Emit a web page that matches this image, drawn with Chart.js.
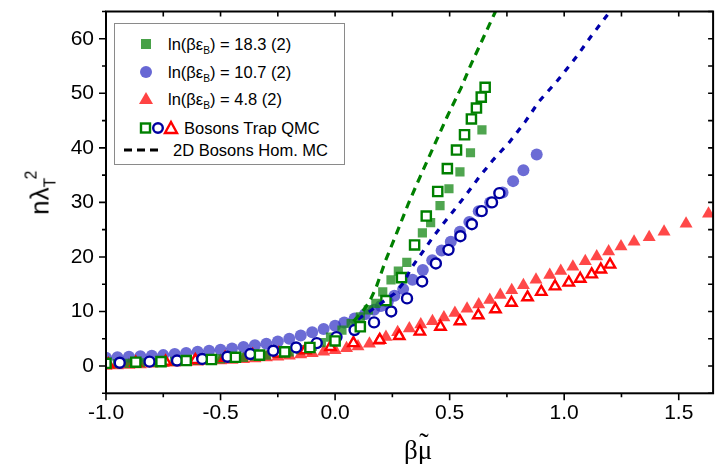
<!DOCTYPE html>
<html>
<head>
<meta charset="utf-8">
<script src="https://cdn.jsdelivr.net/npm/chart.js@4.4.1/dist/chart.umd.min.js"></script>
<style>
  html, body { margin: 0; padding: 0; background: #fff; overflow: hidden; }
  #wrap { position: relative; width: 715px; height: 464px; overflow: hidden; }
  #chart { position: absolute; left: 0; top: 0; }
  .lbl { position: absolute; font-family: "Liberation Sans", Arial, sans-serif; color: #000; white-space: nowrap; }
  #legend { position: absolute; left: 114px; top: 23px; width: 229px; height: 140px; border: 1px solid #8a8a8a; background: #fff; }
  .row { position: absolute; left: 0; height: 24px; font-family: "Liberation Sans", Arial, sans-serif; font-size: 16.5px; line-height: 24px; white-space: nowrap; }
  .row svg { position: absolute; top: 0; }
  .row span.t { position: absolute; top: 0; }
  sub.s { font-size: 0.62em; vertical-align: -0.35em; line-height: 0; }
  #ytitle { left: 40px; top: 192px; font-size: 26px; transform: translate(-50%, -50%) rotate(-90deg); }
  #xtitle { left: 418px; top: 450px; font-family: "Liberation Serif", "DejaVu Serif", serif; font-size: 27px; transform: translate(-50%, -50%); }
  .mu { position: relative; display: inline-block; }
  .mu .tl { position: absolute; left: 0.06em; top: -0.3em; font-size: 1.05em; }
</style>
</head>
<body>
<div id="wrap">
  <canvas id="chart" width="722" height="464"></canvas>
  <div id="ytitle" class="lbl">nλ<span style="font-size:0.6em;position:relative;top:0.45em">T</span><span style="font-size:0.6em;position:relative;top:-0.75em;left:-0.1em">2</span></div>
  <div id="xtitle" class="lbl">β<span class="mu">μ<span class="tl">˜</span></span></div>
  <div id="legend">
    <div class="row" style="top:8px">
      <svg width="40" height="24" style="left:20px"><rect x="6" y="7" width="10" height="10" fill="rgba(20,135,20,0.78)"/></svg>
      <span class="t" style="left:53px">ln(βε<sub class="s">B</sub>) = 18.3 (2)</span>
    </div>
    <div class="row" style="top:36px">
      <svg width="40" height="24" style="left:20px"><circle cx="11" cy="12" r="6" fill="rgba(45,45,195,0.72)"/></svg>
      <span class="t" style="left:53px">ln(βε<sub class="s">B</sub>) = 10.7 (2)</span>
    </div>
    <div class="row" style="top:63px">
      <svg width="40" height="24" style="left:20px"><polygon points="11,5 18,17 4,17" fill="rgba(255,20,20,0.8)"/></svg>
      <span class="t" style="left:53px">ln(βε<sub class="s">B</sub>) = 4.8 (2)</span>
    </div>
    <div class="row" style="top:92px">
      <svg width="48" height="24" style="left:23px">
        <rect x="3" y="7.5" width="9" height="9" fill="#fff" stroke="#008000" stroke-width="2.4"/>
        <circle cx="20" cy="12" r="4.8" fill="#fff" stroke="#0000a0" stroke-width="2.4"/>
        <polygon points="33,6 39,17 27,17" fill="#fff" stroke="#ff0000" stroke-width="2.4"/>
      </svg>
      <span class="t" style="left:69px">Bosons Trap QMC</span>
    </div>
    <div class="row" style="top:114px">
      <svg width="44" height="24" style="left:8px"><line x1="1" y1="12" x2="38" y2="12" stroke="#000" stroke-width="3.2" stroke-dasharray="8,5"/></svg>
      <span class="t" style="left:58px">2D Bosons Hom. MC</span>
    </div>
  </div>
</div>
<script>
// tick values
const xTicks = [-1.0, -0.5, 0.0, 0.5, 1.0, 1.5];
const xMinorTicks = [-0.75, -0.25, 0.25, 0.75, 1.25];
const yTicks = [0, 10, 20, 30, 40, 50, 60];
const yMinorTicks = [-5, 5, 15, 25, 35, 45, 55, 65];

// ln(beta eps_B) = 18.3, filled squares
const greenX = [-1.0, -0.95, -0.9, -0.85, -0.8, -0.75, -0.7, -0.65, -0.6, -0.55, -0.5, -0.45, -0.4, -0.35, -0.3, -0.25, -0.2, -0.15, -0.1, -0.06, -0.02, 0.03, 0.07, 0.11, 0.145, 0.178, 0.208, 0.244, 0.276, 0.313, 0.381, 0.417, 0.458, 0.497, 0.545, 0.591, 0.641];
const greenY = [0.4, 0.45, 0.5, 0.6, 0.65, 0.75, 0.85, 0.95, 1.05, 1.15, 1.3, 1.45, 1.6, 1.8, 2.0, 2.3, 2.6, 3.0, 3.6, 4.3, 5.3, 6.6, 7.8, 9.0, 10.3, 11.5, 13.6, 15.8, 17.4, 19.0, 24.4, 26.3, 29.4, 32.5, 35.6, 39.1, 43.3];
// ln(beta eps_B) = 10.7, filled circles
const blueX = [-1.0, -0.95, -0.9, -0.85, -0.8, -0.75, -0.7, -0.65, -0.6, -0.55, -0.5, -0.45, -0.4, -0.35, -0.3, -0.25, -0.2, -0.15, -0.1, -0.05, 0.0, 0.04, 0.085, 0.13, 0.17, 0.2, 0.23, 0.259, 0.297, 0.338, 0.383, 0.424, 0.465, 0.505, 0.545, 0.586, 0.627, 0.677, 0.731, 0.777, 0.822, 0.88];
const blueY = [1.5, 1.6, 1.7, 1.8, 1.9, 2.0, 2.2, 2.4, 2.6, 2.8, 3.0, 3.2, 3.5, 3.8, 4.1, 4.5, 5.0, 5.6, 6.2, 6.8, 7.4, 8.0, 8.7, 9.5, 10.3, 11.0, 11.8, 12.9, 14.1, 15.8, 17.6, 19.4, 21.2, 22.8, 24.6, 26.4, 28.4, 30.0, 31.8, 33.9, 35.9, 38.8];
// ln(beta eps_B) = 4.8, filled triangles
const redX = [-1.0, -0.95, -0.9, -0.85, -0.8, -0.75, -0.7, -0.65, -0.6, -0.55, -0.5, -0.45, -0.4, -0.35, -0.3, -0.25, -0.2, -0.15, -0.1, -0.05, 0.0, 0.05, 0.1, 0.15, 0.19, 0.222, 0.273, 0.324, 0.374, 0.425, 0.475, 0.523, 0.576, 0.627, 0.675, 0.721, 0.771, 0.822, 0.877, 0.937, 0.985, 1.038, 1.092, 1.142, 1.194, 1.248, 1.305, 1.371, 1.436, 1.532, 1.63];
const redY = [0.0, 0.1, 0.2, 0.3, 0.4, 0.5, 0.6, 0.7, 0.8, 0.9, 1.0, 1.1, 1.25, 1.4, 1.55, 1.7, 1.9, 2.1, 2.35, 2.6, 2.9, 3.25, 3.6, 4.1, 4.6, 5.3, 6.2, 6.9, 7.6, 8.2, 8.9, 9.7, 10.5, 11.3, 12.1, 13.0, 13.9, 14.8, 15.8, 16.7, 17.4, 18.2, 19.2, 20.1, 21.0, 21.9, 22.8, 23.6, 24.6, 26.1, 27.9];

// Bosons trap QMC (open markers)
const qmcGreenX = [-1.0, -0.87, -0.76, -0.65, -0.54, -0.435, -0.33, -0.22, -0.11, 0.0, 0.11, 0.222, 0.29, 0.347, 0.398, 0.448, 0.49, 0.53, 0.565, 0.595, 0.617, 0.638, 0.655];
const qmcGreenY = [0.5, 0.7, 0.8, 1.0, 1.2, 1.6, 2.0, 2.6, 3.4, 4.6, 7.2, 12.0, 16.2, 22.2, 27.5, 32.0, 36.2, 39.6, 42.4, 45.3, 47.3, 49.3, 51.1];
const qmcBlueX = [-0.94, -0.81, -0.69, -0.58, -0.47, -0.37, -0.27, -0.17, -0.08, 0.006, 0.085, 0.17, 0.245, 0.314, 0.38, 0.44, 0.495, 0.547, 0.597, 0.64, 0.685, 0.717];
const qmcBlueY = [0.6, 0.8, 1.0, 1.3, 1.7, 2.2, 2.8, 3.4, 4.2, 5.3, 6.6, 8.0, 10.0, 12.4, 15.5, 18.8, 21.3, 23.8, 26.0, 28.4, 30.0, 31.7];
const qmcRedX = [-0.99, -0.87, -0.74, -0.61, -0.48, -0.36, -0.245, -0.13, -0.02, 0.08, 0.195, 0.28, 0.37, 0.46, 0.545, 0.625, 0.70, 0.77, 0.84, 0.90, 0.96, 1.02, 1.07, 1.12, 1.16, 1.20];
const qmcRedY = [0.3, 0.6, 0.8, 1.1, 1.5, 2.0, 2.3, 2.9, 3.5, 4.2, 4.8, 5.5, 6.3, 7.2, 8.2, 9.3, 10.4, 11.6, 12.6, 13.6, 14.6, 15.3, 16.0, 16.8, 17.7, 18.6];

// 2D bosons homogeneous MC (dashed)
const homGreenX = [0.08, 0.12, 0.15, 0.18, 0.22, 0.27, 0.32, 0.37, 0.43, 0.49, 0.55, 0.59, 0.645, 0.70];
const homGreenY = [8.2, 10.0, 11.8, 14.5, 19.3, 24.5, 29.8, 34.6, 40.2, 45.8, 51.0, 55.0, 60.0, 65.0];
const homBlueX = [0.10, 0.15, 0.2, 0.26, 0.30, 0.33, 0.37, 0.42, 0.47, 0.52, 0.57, 0.63, 0.69, 0.76, 0.83, 0.89, 0.97, 1.05, 1.12, 1.2];
const homBlueY = [8.6, 10.0, 11.5, 13.3, 15.3, 17.8, 20.2, 23.2, 26.0, 28.6, 31.3, 34.7, 37.8, 41.0, 44.8, 48.5, 52.3, 56.5, 60.6, 65.0];

const pts = (xs, ys) => xs.map((x, i) => ({ x, y: ys[i] }));

const framePlugin = {
    id: "frame",
    afterDraw(chart) {
        const { ctx, chartArea: a, scales: { x, y } } = chart;
        ctx.save();
        ctx.strokeStyle = "#000";
        ctx.lineWidth = 2;
        ctx.strokeRect(a.left, a.top, a.right - a.left, a.bottom - a.top);
        ctx.lineWidth = 1.6;
        ctx.beginPath();
        const xt = (v, len) => {
            const p = x.getPixelForValue(v);
            ctx.moveTo(p, a.bottom); ctx.lineTo(p, a.bottom + len);
            ctx.moveTo(p, a.top); ctx.lineTo(p, a.top + 5);
        };
        const yt = (v, len) => {
            const p = y.getPixelForValue(v);
            ctx.moveTo(a.left, p); ctx.lineTo(a.left - len, p);
            ctx.moveTo(a.right, p); ctx.lineTo(a.right - 5, p);
        };
        xTicks.forEach(v => xt(v, 7));
        xMinorTicks.forEach(v => xt(v, 4));
        yTicks.forEach(v => yt(v, 7));
        yMinorTicks.forEach(v => yt(v, 4));
        ctx.stroke();
        ctx.restore();
    }
};

const tickFont = { family: "'Liberation Sans', Arial, sans-serif", size: 21 };

new Chart(document.getElementById("chart").getContext("2d"), {
    type: "scatter",
    data: {
        datasets: [
            { data: pts(homGreenX, homGreenY), showLine: true, borderColor: "#008000", borderWidth: 3.2, borderDash: [8, 6], pointRadius: 0, fill: false },
            { data: pts(homBlueX, homBlueY), showLine: true, borderColor: "#0000aa", borderWidth: 3.2, borderDash: [6, 7], pointRadius: 0, fill: false },
            { data: pts(qmcGreenX, qmcGreenY), pointStyle: "rect", pointRadius: 6.5, backgroundColor: "#fff", borderColor: "#008000", borderWidth: 2.4 },
            { data: pts(qmcBlueX, qmcBlueY), pointStyle: "circle", pointRadius: 5, backgroundColor: "#fff", borderColor: "#0000a0", borderWidth: 2.4 },
            { data: pts(qmcRedX, qmcRedY), pointStyle: "triangle", pointRadius: 6, backgroundColor: "#fff", borderColor: "#ff0000", borderWidth: 2.4 },
            { data: pts(greenX, greenY), pointStyle: "rect", pointRadius: 6.5, backgroundColor: "rgba(20,135,20,0.75)", borderWidth: 0 },
            { data: pts(blueX, blueY), pointStyle: "circle", pointRadius: 6, backgroundColor: "rgba(45,45,195,0.7)", borderWidth: 0 },
            { data: pts(redX, redY), pointStyle: "triangle", pointRadius: 7.5, backgroundColor: "rgba(255,20,20,0.78)", borderWidth: 0 }
        ]
    },
    options: {
        responsive: false,
        animation: false,
        layout: { padding: { top: 11.5, right: 4.4, left: 0, bottom: 0 } },
        plugins: { legend: { display: false }, tooltip: { enabled: false } },
        scales: {
            x: {
                type: "linear", min: -1, max: 1.65,
                grid: { display: false, drawTicks: false }, border: { display: false },
                afterBuildTicks: s => { s.ticks = xTicks.map(v => ({ value: v })); },
                afterFit: s => { s.height = 70.7; s.paddingLeft = 0; s.paddingRight = 0; },
                ticks: { color: "#000", font: tickFont, padding: 7, maxRotation: 0, autoSkip: false, callback: v => v.toFixed(1) }
            },
            y: {
                type: "linear", min: -5, max: 65,
                grid: { display: false, drawTicks: false }, border: { display: false },
                afterBuildTicks: s => { s.ticks = yTicks.map(v => ({ value: v })); },
                afterFit: s => { s.width = 106; s.paddingTop = 0; s.paddingBottom = 0; },
                ticks: { color: "#000", font: tickFont, padding: 12, callback: v => String(v) }
            }
        }
    },
    plugins: [framePlugin]
});
</script>
</body>
</html>
